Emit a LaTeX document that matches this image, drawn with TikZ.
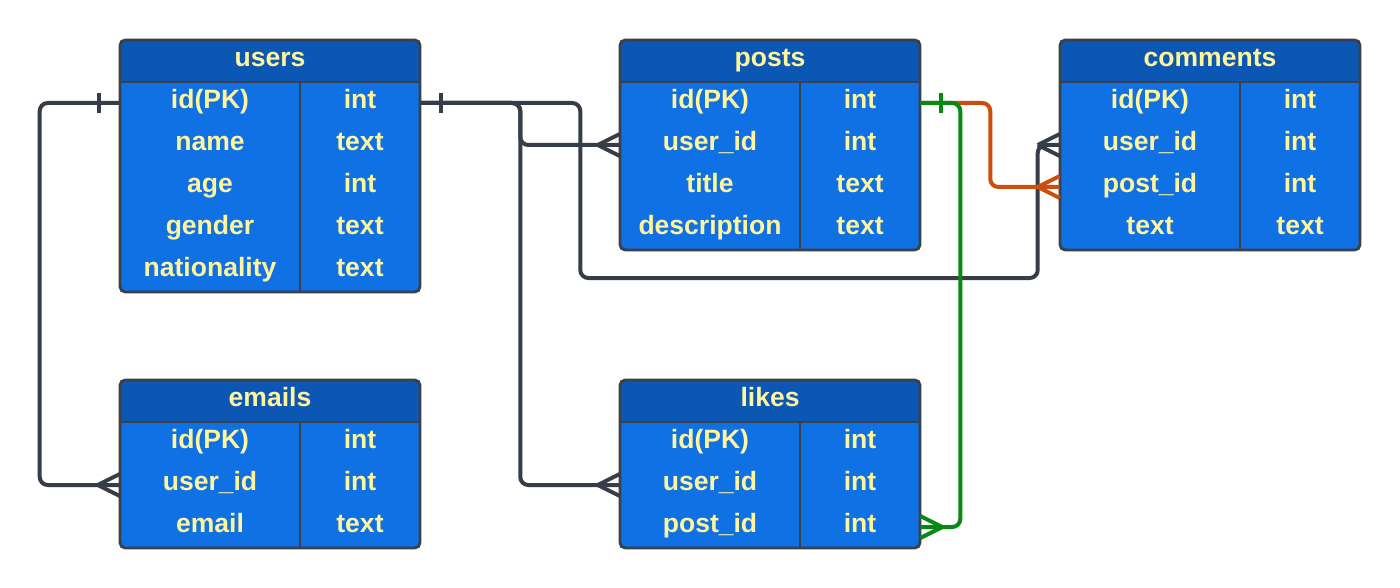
\documentclass[tikz,border=0pt]{standalone}
\usepackage{fontspec}
\setmainfont{Liberation Sans}
\usepackage{xcolor}
\usetikzlibrary{calc}
\definecolor{headblue}{HTML}{0C57B3}
\definecolor{bodyblue}{HTML}{1071E5}
\definecolor{textyellow}{HTML}{FFF59D}
\definecolor{edgegrey}{HTML}{3A414B}
\definecolor{relgrey}{HTML}{363D46}
\definecolor{relgreen}{HTML}{078A13}
\definecolor{relorange}{HTML}{CC4E0A}
\tikzset{
	cell/.style={
			inner sep=0pt, minimum height=31.5pt, text=textyellow,
			font=\fontsize{19.9}{24}\selectfont\bfseries,
			text height=13pt, text depth=5pt
		},
	headcell/.style={cell, minimum width=225pt},
	fieldcell/.style={cell, minimum width=135pt},
	typecell/.style={cell, minimum width=90pt},
	tblline/.style={draw=edgegrey, line width=2.2pt},
	colline/.style={draw=edgegrey, line width=1.5pt},
	rel/.style={draw=relgrey, line width=3pt, rounded corners=6},
	crowfoot/.pic={\draw[pic actions, rounded corners=0] (-22,0) -- (0,-11) (-22,0) -- (0,11);},
	onebar/.pic={\draw[pic actions, rounded corners=0] (-21,-10) -- (-21,10);}
}
% one table: name, left, top, rows, fields
\newcommand{\ertable}[5]{%
	\fill[bodyblue, rounded corners=4] (#2,#3) rectangle ++(300,42+42*#4);
	\fill[headblue, rounded corners=4] (#2,#3) rectangle ++(300,42);
	\fill[headblue] (#2,#3+20) rectangle ++(300,22);
	\draw[colline] (#2,#3+42) -- ++(300,0);
	\draw[colline] (#2+180,#3+42) -- ++(0,42*#4);
	\draw[tblline, rounded corners=4] (#2,#3) rectangle ++(300,42+42*#4);
	\node[headcell] (#1) at (#2+150,#3+21) {#1};
	\foreach \fld/\typ [count=\i] in {#5} {
		\node[fieldcell] (#1-\i) at (#2+90,#3+21+42*\i) {\fld};
		\node[typecell] (#1-\i t) at (#2+240,#3+21+42*\i) {\typ};
	}
}

\begin{document}
\begin{tikzpicture}[x=0.75pt, y=-0.75pt]
	\useasboundingbox (0,0) rectangle (1400,588);

	% The tables
	\ertable{users}{120}{40}{5}{id(PK)/int, name/text, age/int, gender/text, nationality/text}
	\ertable{posts}{620}{40}{4}{id(PK)/int, user\_id/int, title/text, description/text}
	\ertable{comments}{1060}{40}{4}{id(PK)/int, user\_id/int, post\_id/int, text/text}
	\ertable{emails}{120}{380}{3}{id(PK)/int, user\_id/int, email/text}
	\ertable{likes}{620}{380}{3}{id(PK)/int, user\_id/int, post\_id/int}

	% users to emails
	\draw[rel] (users-1.west) -- ++(-80,0) |- (emails-2.west);
	\pic[rel] at (users-1.west) {onebar};
	\pic[rel] at (emails-2.west) {crowfoot};

	% users to posts, likes and comments
	\draw[rel] (users-1t.east) -- ++(100,0) |- (posts-2.west);
	\draw[rel] (users-1t.east) -- ++(100,0) |- (likes-2.west);
	\draw[rel] (users-1t.east) -- ++(160,0) -- ++(0,175)
		-| ($(comments-2.west)+(-22,0)$) -- (comments-2.west);
	\pic[rel, xscale=-1] at (users-1t.east) {onebar};
	\pic[rel] at (posts-2.west) {crowfoot};
	\pic[rel] at (likes-2.west) {crowfoot};
	\pic[rel] at (comments-2.west) {crowfoot};

	% posts to comments
	\draw[rel, draw=relorange] (posts-1t.east) -- ++(70,0) |- (comments-3.west);
	\pic[rel, draw=relorange] at (comments-3.west) {crowfoot};

	% posts to likes
	\draw[rel, draw=relgreen] (posts-1t.east) -- ++(40,0) |- (likes-3t.east);
	\pic[rel, draw=relgreen, xscale=-1] at (posts-1t.east) {onebar};
	\pic[rel, draw=relgreen, xscale=-1] at (likes-3t.east) {crowfoot};
\end{tikzpicture}
\end{document}
